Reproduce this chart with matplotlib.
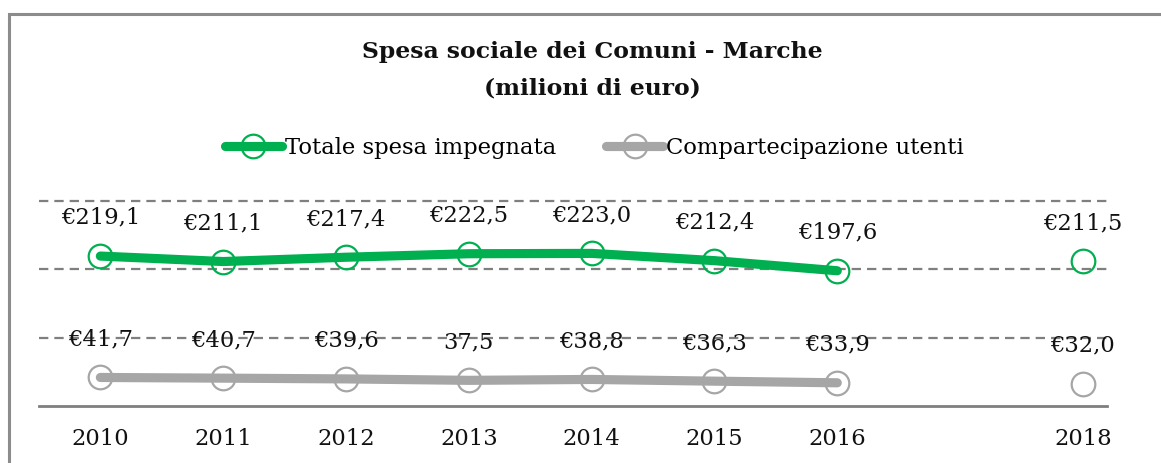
"""Spesa sociale dei Comuni - Marche, line chart recreation."""

import matplotlib

matplotlib.use("Agg")
import matplotlib.pyplot as plt
from matplotlib.patches import Rectangle
import numpy as np

years = [2010, 2011, 2012, 2013, 2014, 2015, 2016, 2017, 2018]
tick_years = [2010, 2011, 2012, 2013, 2014, 2015, 2016, 2018]
totale = [219.1, 211.1, 217.4, 222.5, 223.0, 212.4, 197.6, np.nan, 211.5]
utenti = [41.7, 40.7, 39.6, 37.5, 38.8, 36.3, 33.9, np.nan, 32.0]
totale_labels = ["€219,1", "€211,1", "€217,4", "€222,5", "€223,0", "€212,4", "€197,6", "", "€211,5"]
utenti_labels = ["€41,7", "€40,7", "€39,6", "37,5", "€38,8", "€36,3", "€33,9", "", "€32,0"]

GREEN = "#00B050"
GREY = "#A6A6A6"
GRID = "#7F7F7F"
FONT = "DejaVu Serif"
TEXT_SIZE = 16.3

plt.rcParams["font.family"] = FONT

fig = plt.figure(figsize=(11.61, 4.63), dpi=100)
ax = fig.add_axes([39.3 / 1161, 1 - 406 / 463, (1107 - 39.3) / 1161, (406 - 200.7) / 463])

# outer chart frame (only top and left edges visible in the crop)
fig.patches.append(
    Rectangle((9 / 1161, -0.1), 1.2, 1 - 14 / 463 + 0.1, transform=fig.transFigure,
              fill=False, edgecolor="#8C8C8C", linewidth=2.2)
)

for level in (100, 200, 300):
    ax.axhline(level, color=GRID, linewidth=1.6, dashes=(4.2, 2.7), clip_on=False, zorder=1)

for values, labels, color, name in (
    (totale, totale_labels, GREEN, "Totale spesa impegnata"),
    (utenti, utenti_labels, GREY, "Compartecipazione utenti"),
):
    ax.plot(years, values, color=color, linewidth=6.6, solid_capstyle="round",
            marker="o", markersize=17, markerfacecolor="none",
            markeredgecolor=color, markeredgewidth=1.6, label=name, zorder=3)
    for year, value, text in zip(years, values, labels):
        if text:
            ax.annotate(text, (year, value), xytext=(0, 27.5), textcoords="offset points",
                        ha="center", va="center", fontsize=TEXT_SIZE, color="#111111", zorder=4)

ax.set_xlim(2009.503, 2018.196)
ax.set_ylim(0, 300)
ax.set_xticks(tick_years)
ax.set_xticklabels([str(y) for y in tick_years], fontsize=TEXT_SIZE, color="#111111")
ax.set_yticks([])
ax.tick_params(axis="x", length=0, pad=16)
for side in ("top", "left", "right"):
    ax.spines[side].set_visible(False)
ax.spines["bottom"].set_color(GRID)
ax.spines["bottom"].set_linewidth(2)
ax.patch.set_alpha(0)

fig.text(592 / 1161, 1 - 52 / 463, "Spesa sociale dei Comuni - Marche", ha="center", va="center",
         fontsize=16.9, fontweight="bold", color="#111111")
fig.text(592 / 1161, 1 - 88 / 463, "(milioni di euro)", ha="center", va="center",
         fontsize=16.9, fontweight="bold", color="#111111")

fig.legend(loc="center", bbox_to_anchor=(594 / 1161, 1 - 148 / 463), ncol=2, frameon=False,
           fontsize=TEXT_SIZE, handlelength=2.55, handletextpad=0.1, columnspacing=2.2, numpoints=1)

fig.savefig("out.png", dpi=100)
